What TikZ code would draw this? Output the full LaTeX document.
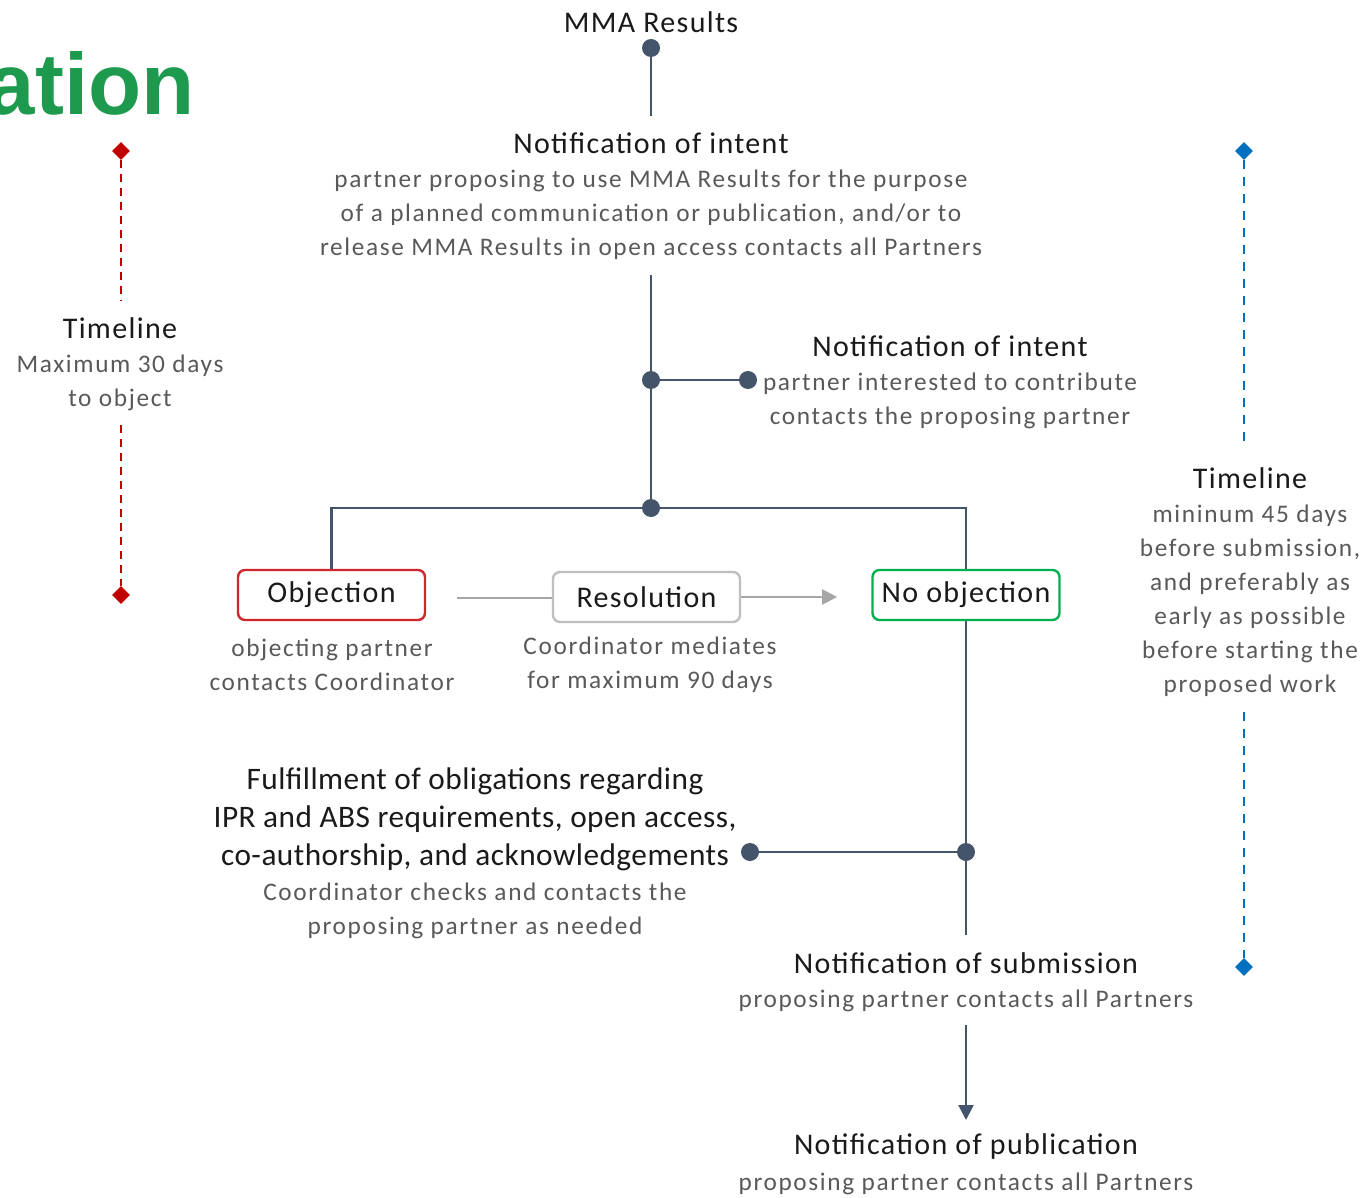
\documentclass[tikz,border=0pt]{standalone}
\usepackage{fontspec}
\setmainfont{Carlito}
\newfontfamily\headfont{Liberation Sans}
\newfontfamily\titlefont{Carlito}[LetterSpace=4.5]
\newfontfamily\descfont{Carlito}[LetterSpace=6.5]
\newfontfamily\bigfont{Carlito}[LetterSpace=1.5]
\usetikzlibrary{arrows.meta,shapes.geometric}
\definecolor{slate}{HTML}{44546A}
\definecolor{txtgray}{HTML}{595959}
\definecolor{txtdark}{HTML}{1A1A1A}
\definecolor{tlred}{HTML}{C00000}
\definecolor{tlblue}{HTML}{0070C0}
\definecolor{okgreen}{HTML}{00B050}
\definecolor{boxred}{HTML}{D0262D}
\definecolor{boxgray}{HTML}{BFBFBF}
\definecolor{lightline}{HTML}{A6A6A6}
\definecolor{headgreen}{HTML}{1E9A4E}
\begin{document}
\begin{tikzpicture}[x=1pt,y=-1pt,
  title/.style={font=\titlefont\fontsize{30}{34}\selectfont, text=txtdark, inner sep=0pt, align=center},
  desc/.style={font=\descfont\fontsize{25.3}{34}\selectfont, text=txtgray, inner sep=0pt, align=center},
  bigtitle/.style={font=\bigfont\fontsize{31.3}{38}\selectfont, text=txtdark, inner sep=0pt, align=center},
  dot/.style={circle, fill=slate, minimum size=18pt, inner sep=0pt},
  main/.style={draw=slate, line width=2.4pt},
  light/.style={draw=lightline, line width=2.2pt},
  stepbox/.style={rounded corners=7pt, line width=2.4pt, minimum width=187pt, minimum height=50pt,
    fill=white, font=\titlefont\fontsize{30}{34}\selectfont, text=txtdark, inner sep=0pt},
  gem/.style={diamond, minimum size=18pt, inner sep=0pt},
  reddash/.style={draw=tlred, line width=2.4pt, dash pattern=on 8pt off 6pt},
  bluedash/.style={draw=tlblue, line width=2pt, dash pattern=on 9pt off 8pt},
]
\useasboundingbox (0,0) rectangle (1367,1198);
\fill[white] (0,0) rectangle (1367,1198);

% cropped heading fragment
\begin{scope}
  \clip (0,0) rectangle (1367,1198);
  \node[anchor=base east, inner sep=0pt, font=\headfont\bfseries\fontsize{87}{90}\selectfont, text=headgreen] (head) at (195,115) {ation};
\end{scope}

% main column
\node[title] (mma) at (651,22) {MMA Results};
\node[dot] (d0) at (651,48) {};
\coordinate (c1) at (651,116);
\node[title] (int1) at (651,143) {Notification of intent};
\node[desc] (int1d) at (651,215) {partner proposing to use MMA Results for the purpose\\of a planned communication or publication, and/or to\\release MMA Results in open access contacts all Partners};
\coordinate (c2) at (651,275);
\node[dot] (di) at (651,380) {};
\node[dot] (dc) at (748,380) {};
\node[dot] (dj) at (651,508) {};
\node[title] (int2) at (950,346) {Notification of intent};
\node[desc] (int2d) at (950,401) {partner interested to contribute\\contacts the proposing partner};

% decision boxes
\node[stepbox, draw=boxred] (obj) at (331.5,595) {Objection};
\node[stepbox, draw=boxgray] (res) at (646.5,597) {Resolution};
\node[stepbox, draw=okgreen] (noobj) at (966,595) {No objection};
\node[desc] (objd) at (332,665) {objecting partner\\contacts Coordinator};
\node[desc] (resd) at (650,665) {Coordinator mediates\\for maximum 90 days};

% obligations
\node[dot] (dn) at (966,852) {};
\node[dot] (df) at (750,852) {};
\coordinate (c3) at (966,935);
\node[bigtitle] (ful) at (475,819) {Fulfillment of obligations regarding\\IPR and ABS requirements, open access,\\co-authorship, and acknowledgements};
\node[desc] (fuld) at (475,910.5) {Coordinator checks and contacts the\\proposing partner as needed};

% submission and publication
\node[title] (sub) at (966,963) {Notification of submission};
\node[desc] (subd) at (966,1001) {proposing partner contacts all Partners};
\coordinate (c4) at (966,1025);
\coordinate (c5) at (966,1120);
\node[title] (pub) at (966,1146) {Notification of publication};
\node[desc] (pubd) at (966,1184) {proposing partner contacts all Partners};

% connectors
\draw[main] (d0) -- (c1);
\draw[main] (c2) -- (di) -- (dj);
\draw[main] (di) -- (dc);
\draw[main] (obj.north) |- (dj.center) -| (noobj.north);
\coordinate (g1) at (457,598);
\draw[light] (g1) -- (g1 -| res.west);
\draw[light, -{Triangle[length=15pt,width=15pt]}] (res.east) -- ++(96pt,0) coordinate (g2);
\draw[main] (noobj.south) -- (dn) -- (c3);
\draw[main] (dn) -- (df);
\draw[main, -{Triangle[length=15pt,width=15pt]}] (c4) -- (c5);

% objection timeline
\node[gem, fill=tlred] (rA) at (121,151) {};
\node[gem, fill=tlred] (rB) at (121,595) {};
\node[title] (tlL) at (120,328) {Timeline};
\node[desc] (tlLd) at (120,383) {Maximum 30 days\\to object};
\coordinate (rA2) at (121,301);
\coordinate (rB2) at (121,425);
\draw[reddash] (rA) -- (rA2);
\draw[reddash] (rB2) -- (rB);

% notification timeline
\node[gem, fill=tlblue] (bA) at (1244,151) {};
\node[gem, fill=tlblue] (bB) at (1244,967) {};
\node[title] (tlR) at (1250,478) {Timeline};
\node[desc] (tlRd) at (1250,601) {mininum 45 days\\before submission,\\and preferably as\\early as possible\\before starting the\\proposed work};
\coordinate (bA2) at (1244,448);
\coordinate (bB2) at (1244,712);
\draw[bluedash] (bA) -- (bA2);
\draw[bluedash] (bB2) -- (bB);
\end{tikzpicture}
\end{document}
